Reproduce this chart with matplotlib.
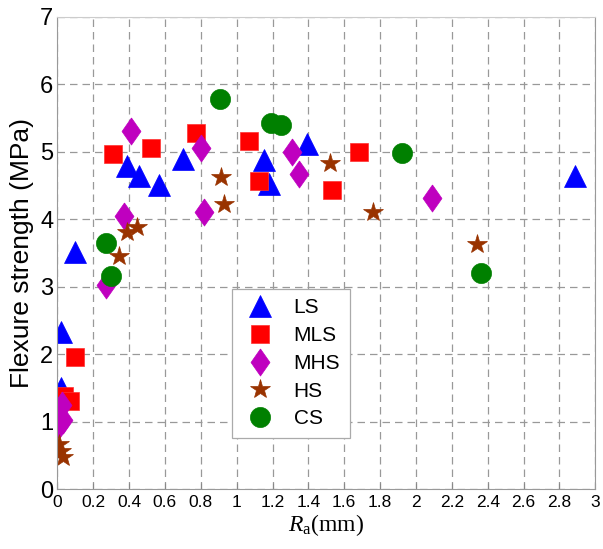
import numpy as np
import matplotlib
matplotlib.use("Agg")
import matplotlib.pyplot as plt

plt.rcParams['font.family'] = ['Liberation Sans', 'DejaVu Sans']
plt.rcParams['mathtext.fontset'] = 'custom'
plt.rcParams['mathtext.rm'] = 'Liberation Serif'
plt.rcParams['mathtext.it'] = 'Liberation Serif:italic'

# roughness Ra (mm) and flexure strength (MPa) per group
ls_x = [0.02, 0.02, 0.10, 0.39, 0.455, 0.565, 0.70, 1.15, 1.18, 1.39, 2.885]
ls_y = [2.32, 1.50, 3.52, 4.79, 4.64, 4.50, 4.89, 4.87, 4.52, 5.11, 4.64]

mls_x = [0.04, 0.07, 0.10, 0.31, 0.52, 0.774, 1.07, 1.125, 1.53, 1.68]
mls_y = [1.38, 1.30, 1.95, 4.96, 5.06, 5.27, 5.16, 4.57, 4.43, 5.00]

mhs_x = [0.024, 0.01, 0.03, 0.27, 0.37, 0.41, 0.80, 0.82, 1.31, 1.35, 2.09]
mhs_y = [1.24, 0.95, 1.02, 3.02, 4.05, 5.31, 5.06, 4.10, 5.00, 4.67, 4.31]

hs_x = [0.01, 0.02, 0.03, 0.344, 0.39, 0.446, 0.913, 0.927, 1.52, 1.76, 2.34]
hs_y = [0.67, 0.57, 0.48, 3.46, 3.81, 3.88, 4.62, 4.22, 4.83, 4.10, 3.63]

cs_x = [0.27, 0.298, 0.91, 1.19, 1.246, 1.92, 2.36]
cs_y = [3.65, 3.15, 5.78, 5.43, 5.39, 4.98, 3.20]

x_ticks = np.arange(0, 3.01, 0.2)
x_labels = ['0', '0.2', '0.4', '0.6', '0.8', '1', '1.2', '1.4', '1.6', '1.8',
            '2', '2.2', '2.4', '2.6', '2.8', '3']
y_ticks = np.arange(0, 8)

diamond = [(0, 1), (0.7, 0), (0, -1), (-0.7, 0), (0, 1)]

fig = plt.figure(figsize=(6.03, 5.49), dpi=100)
ax = fig.add_axes([57.3 / 603, 1 - 489 / 549, 538 / 603, 472.3 / 549])

ax.plot(ls_x, ls_y, '^', color='#0000ff', ms=16, mew=0.5, label='LS', ls='none')
ax.plot(mls_x, mls_y, 's', color='#ff0000', mec='#ff3030', ms=12.5, mew=0.5, label='MLS', ls='none')
ax.plot(mhs_x, mhs_y, marker=diamond, color='#bf00bf', ms=19.5, mew=0.5, label='MHS', ls='none')
ax.plot(hs_x, hs_y, '*', color='#993300', ms=15, mew=0.5, label='HS', ls='none')
ax.plot(cs_x, cs_y, 'o', color='#008000', ms=14.5, mew=0.5, label='CS', ls='none')

ax.set_xlim(0, 3)
ax.set_ylim(0, 7)
ax.set_xticks(x_ticks)
ax.set_xticklabels(x_labels, fontsize=12.5)
ax.set_yticks(y_ticks)
ax.tick_params(axis='y', labelsize=17, direction='in', length=0, pad=3)
ax.tick_params(axis='x', direction='in', length=4, color='#888888', pad=4)
ax.grid(True, color='#999999', linestyle=(0, (6, 4)), linewidth=0.9)
ax.set_axisbelow(True)

for side in ['left', 'bottom', 'right']:
    ax.spines[side].set_color('#999999')
ax.spines['top'].set_color('#cccccc')

ax.set_ylabel('Flexure strength (MPa)', fontsize=19, labelpad=4)
ax.set_xlabel(r'$R_\mathrm{a}$(mm)', fontsize=17, labelpad=2,
              fontfamily='Liberation Serif')

leg = ax.legend(loc='upper left', bbox_to_anchor=(0.325, 0.4235), borderaxespad=0,
                fontsize=15, fancybox=False, framealpha=1, edgecolor='#aaaaaa',
                labelspacing=0.42, handletextpad=0.7, borderpad=0.45,
                handlelength=1.8, numpoints=1)
leg.get_frame().set_linewidth(0.9)

fig.savefig('out.png', dpi=100)
